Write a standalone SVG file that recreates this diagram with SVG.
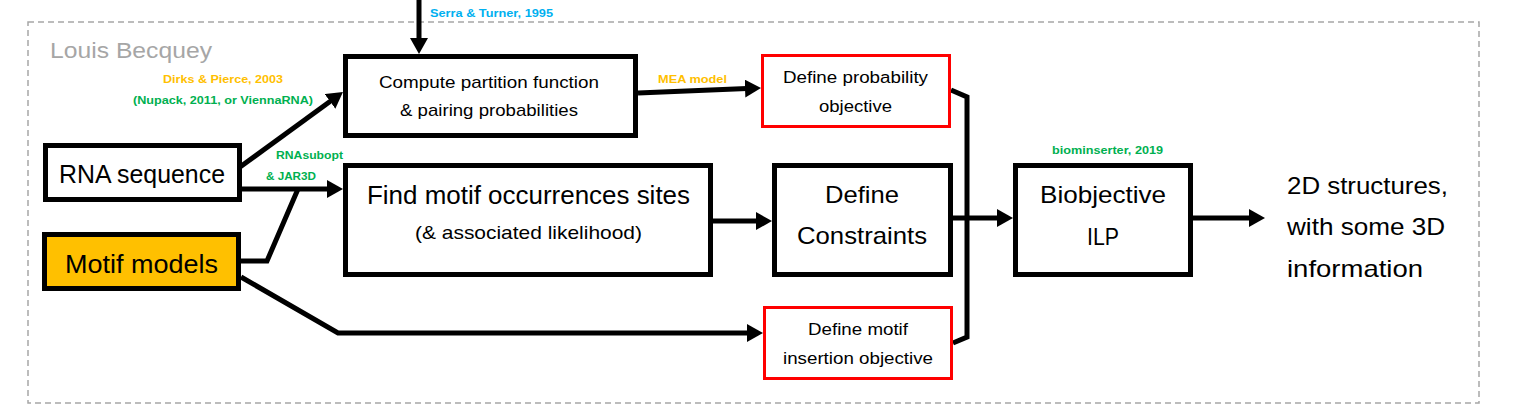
<svg xmlns="http://www.w3.org/2000/svg" width="1516" height="416" viewBox="0 0 1516 416">
<style>
  text { font-family: "Liberation Sans", Arial, sans-serif; fill: #000; }
  .mid { text-anchor: middle; }
  .box { fill: #fff; stroke: #000; stroke-width: 5; }
  .obj { fill: #fff; stroke: #ff0000; stroke-width: 3; }
  .conn { fill: none; stroke: #000; stroke-width: 5; stroke-linejoin: miter; }
  .arrow { marker-end: url(#ah); }
  .lbl { font-weight: bold; font-size: 11.5px; }
  .orange { fill: #FFC000; }
  .green { fill: #00B050; }
  .blue { fill: #00B0F0; }
</style>
<defs>
  <marker id="ah" markerUnits="userSpaceOnUse" markerWidth="16" markerHeight="18" refX="8" refY="9" orient="auto">
    <path d="M0,0 L16,9 L0,18 z" fill="#000"/>
  </marker>
</defs>
<rect width="1516" height="416" fill="#fff"/>
<g id="frame">
  <rect x="28" y="22" width="1451" height="381" fill="none" stroke="#A6A6A6" stroke-width="1.5" stroke-dasharray="6 4"/>
  <text x="50" y="58" font-size="22" style="fill:#A6A6A6" textLength="162" lengthAdjust="spacingAndGlyphs">Louis Becquey</text>
</g>
<g id="connectors">
  <line class="conn arrow" x1="419" y1="0" x2="419" y2="46"/>
  <line class="conn arrow" x1="240" y1="167" x2="336.5" y2="96.7"/>
  <line class="conn arrow" x1="242" y1="189" x2="335" y2="189"/>
  <polyline class="conn" points="241,261 267,261 298,189"/>
  <polyline class="conn arrow" points="241,277 338,333 755,333"/>
  <line class="conn arrow" x1="638" y1="93" x2="753" y2="88.3"/>
  <line class="conn arrow" x1="713" y1="221" x2="764" y2="221"/>
  <polyline class="conn" points="951,90 967,97 967,337 953,343"/>
  <line class="conn arrow" x1="953" y1="218" x2="1005" y2="218"/>
  <line class="conn arrow" x1="1193" y1="218" x2="1257" y2="218"/>
  <text class="lbl blue" x="430" y="17" textLength="123" lengthAdjust="spacingAndGlyphs">Serra &amp; Turner, 1995</text>
  <text class="lbl orange mid" x="223" y="83" textLength="120" lengthAdjust="spacingAndGlyphs">Dirks &amp; Pierce, 2003</text>
  <text class="lbl green mid" x="223" y="104" textLength="180" lengthAdjust="spacingAndGlyphs">(Nupack, 2011, or ViennaRNA)</text>
  <text class="lbl green" x="276" y="159" textLength="67" lengthAdjust="spacingAndGlyphs">RNAsubopt</text>
  <text class="lbl green" x="266" y="180" textLength="50" lengthAdjust="spacingAndGlyphs">&amp; JAR3D</text>
  <text class="lbl orange" x="658" y="83" textLength="69" lengthAdjust="spacingAndGlyphs">MEA model</text>
  <text class="lbl green mid" x="1107.5" y="154" textLength="111" lengthAdjust="spacingAndGlyphs">biominserter, 2019</text>
</g>
<g id="rna-sequence">
  <rect class="box" x="45.5" y="145.5" width="194" height="54"/>
  <text class="mid" x="142" y="183" font-size="25" textLength="166" lengthAdjust="spacingAndGlyphs">RNA sequence</text>
</g>
<g id="motif-models">
  <rect class="box" x="44.5" y="234.5" width="194" height="54" style="fill:#FFC000"/>
  <text class="mid" x="141.5" y="273" font-size="25" textLength="153" lengthAdjust="spacingAndGlyphs">Motif models</text>
</g>
<g id="compute-partition">
  <rect class="box" x="345.5" y="56.5" width="290" height="79"/>
  <text class="mid" x="489" y="88" font-size="17" textLength="220" lengthAdjust="spacingAndGlyphs">Compute partition function</text>
  <text class="mid" x="489" y="116" font-size="17" textLength="178" lengthAdjust="spacingAndGlyphs">&amp; pairing probabilities</text>
</g>
<g id="find-motif">
  <rect class="box" x="345.5" y="165.5" width="365" height="109"/>
  <text class="mid" x="528.5" y="204" font-size="25" textLength="323" lengthAdjust="spacingAndGlyphs">Find motif occurrences sites</text>
  <text class="mid" x="528.5" y="239" font-size="18.5" textLength="227" lengthAdjust="spacingAndGlyphs">(&amp; associated likelihood)</text>
</g>
<g id="probability-objective">
  <rect class="obj" x="762.5" y="55.5" width="187" height="71"/>
  <text class="mid" x="855.5" y="83" font-size="16" textLength="145" lengthAdjust="spacingAndGlyphs">Define probability</text>
  <text class="mid" x="855.5" y="112" font-size="16" textLength="73" lengthAdjust="spacingAndGlyphs">objective</text>
</g>
<g id="define-constraints">
  <rect class="box" x="774.5" y="165.5" width="176" height="109"/>
  <text class="mid" x="862" y="203" font-size="24" textLength="74" lengthAdjust="spacingAndGlyphs">Define</text>
  <text class="mid" x="862" y="244" font-size="24" textLength="130" lengthAdjust="spacingAndGlyphs">Constraints</text>
</g>
<g id="insertion-objective">
  <rect class="obj" x="764.5" y="307.5" width="187" height="71"/>
  <text class="mid" x="858" y="335" font-size="16" textLength="100" lengthAdjust="spacingAndGlyphs">Define motif</text>
  <text class="mid" x="858" y="364" font-size="16" textLength="150" lengthAdjust="spacingAndGlyphs">insertion objective</text>
</g>
<g id="biobjective-ilp">
  <rect class="box" x="1015.5" y="165.5" width="175" height="109"/>
  <text class="mid" x="1103" y="203" font-size="24" textLength="126" lengthAdjust="spacingAndGlyphs">Biobjective</text>
  <text class="mid" x="1103" y="245" font-size="24" textLength="32" lengthAdjust="spacingAndGlyphs">ILP</text>
</g>
<g id="output">
  <text x="1287" y="194" font-size="24" textLength="161" lengthAdjust="spacingAndGlyphs">2D structures,</text>
  <text x="1287" y="235" font-size="24" textLength="158" lengthAdjust="spacingAndGlyphs">with some 3D</text>
  <text x="1287" y="277" font-size="24" textLength="136" lengthAdjust="spacingAndGlyphs">information</text>
</g>
</svg>
